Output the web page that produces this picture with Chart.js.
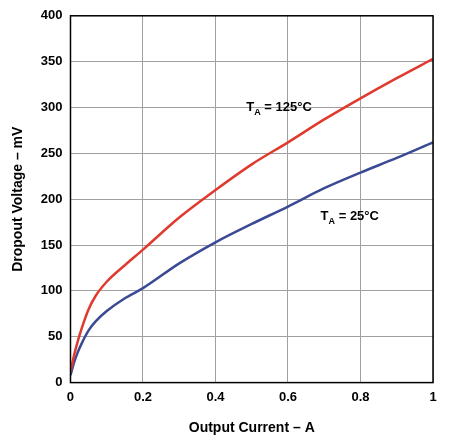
<!DOCTYPE html>
<html>
<head>
<meta charset="utf-8">
<script src="https://cdn.jsdelivr.net/npm/chart.js@4/dist/chart.umd.min.js"></script>
<style>
  body { margin: 0; background: #fff; }
  #wrap { width: 451px; height: 447px; }
</style>
</head>
<body>
<div id="wrap"><canvas id="chart"></canvas></div>
<script>
// Datos
const currentA = [0, 0.01, 0.02, 0.03, 0.05, 0.07, 0.1, 0.15, 0.2, 0.3, 0.4, 0.5, 0.6, 0.7, 0.8, 0.9, 1.0];
const drop125 = [12, 30, 45, 58, 80, 95, 110, 128, 145, 180, 210, 238, 262, 287, 310, 332, 353];
const drop25 = [8, 22, 33, 42, 57, 67, 78, 92, 103, 130, 153, 173, 192, 212, 229, 245, 262];
const yTicks = [0, 50, 100, 150, 200, 250, 300, 350, 400];
const xTicks = [0, 0.2, 0.4, 0.6, 0.8, 1];

const toPoints = (xs, ys) => xs.map((x, i) => ({ x: x, y: ys[i] }));

// Etiquetas de temperatura
const etiquetas = {
    id: 'etiquetas',
    afterDatasetsDraw(chart) {
        const { ctx, scales: { x, y } } = chart;
        function label(xv, yv, val) {
            const px = x.getPixelForValue(xv), py = y.getPixelForValue(yv);
            ctx.save();
            ctx.fillStyle = '#000';
            ctx.font = 'bold 13px Arial, "Liberation Sans", sans-serif';
            ctx.textBaseline = 'alphabetic';
            ctx.fillText('T', px, py);
            let w = ctx.measureText('T').width;
            ctx.font = 'bold 9px Arial, "Liberation Sans", sans-serif';
            ctx.fillText('A', px + w, py + 4);
            w += ctx.measureText('A').width;
            ctx.font = 'bold 13px Arial, "Liberation Sans", sans-serif';
            ctx.fillText(' = ' + val + '°C', px + w, py);
            ctx.restore();
        }
        label(0.485, 296, 125);
        label(0.69, 177, 25);
        // marco
        const a = chart.chartArea;
        ctx.save();
        ctx.strokeStyle = '#000';
        ctx.lineWidth = 1.5;
        ctx.strokeRect(a.left, a.top, a.right - a.left, a.bottom - a.top);
        ctx.restore();
    }
};

new Chart(document.getElementById('chart'), {
    type: 'line',
    data: {
        datasets: [
            { data: toPoints(currentA, drop125), borderColor: '#e03a2f', borderWidth: 2.5, pointRadius: 0, tension: 0.4, cubicInterpolationMode: 'monotone' },
            { data: toPoints(currentA, drop25), borderColor: '#3b4a94', borderWidth: 2.5, pointRadius: 0, tension: 0.4, cubicInterpolationMode: 'monotone' }
        ]
    },
    options: {
        responsive: true,
        maintainAspectRatio: false,
        animation: false,
        layout: { padding: { top: 14, right: 18, left: 6, bottom: 10 } },
        plugins: { legend: { display: false }, tooltip: { enabled: false } },
        scales: {
            x: {
                type: 'linear', min: 0, max: 1,
                afterBuildTicks: s => { s.ticks = xTicks.map(v => ({ value: v })); },
                grid: { color: '#a0a0a0', lineWidth: 1, drawTicks: false },
                border: { display: false },
                ticks: { color: '#000', padding: 7, font: { family: 'Arial, "Liberation Sans"', size: 13, weight: 'bold' },
                    callback: v => String(v) },
                title: { display: true, text: 'Output Current – A', color: '#000', padding: { top: 8, bottom: 0 },
                    font: { family: 'Arial, "Liberation Sans"', size: 14, weight: 'bold' } }
            },
            y: {
                min: 0, max: 400,
                afterBuildTicks: s => { s.ticks = yTicks.map(v => ({ value: v })); },
                grid: { color: '#a0a0a0', lineWidth: 1, drawTicks: false },
                border: { display: false },
                ticks: { color: '#000', padding: 8, font: { family: 'Arial, "Liberation Sans"', size: 13, weight: 'bold' } },
                title: { display: true, text: 'Dropout Voltage – mV', color: '#000', padding: { bottom: 6 },
                    font: { family: 'Arial, "Liberation Sans"', size: 14, weight: 'bold' } }
            }
        }
    },
    plugins: [etiquetas]
});
</script>
</body>
</html>
